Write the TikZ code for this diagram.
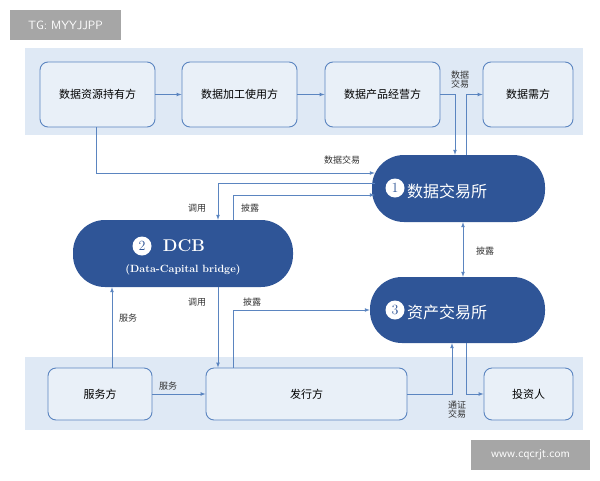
\documentclass[tikz,border=0pt]{standalone}
\usepackage{fontspec}
\newfontfamily\cjk{Noto Sans CJK SC}
\usetikzlibrary{calc}
\definecolor{bandblue}{HTML}{DFE9F5}
\definecolor{boxline}{HTML}{5B85C0}
\definecolor{darkblue}{HTML}{2F5597}
\definecolor{wmgray}{HTML}{A6A6A6}
\tikzset{
  party/.style = {draw = boxline, line width = 0.9pt, rounded corners = 8pt, fill = bandblue!70, font = \cjk\fontsize{11}{13}\selectfont},
  exch/.style = {fill = darkblue, rounded corners = 32pt, text = white, font = \cjk\fontsize{15}{18}\selectfont},
  num/.style = {circle, fill = white, text = darkblue, inner sep = 0pt, minimum size = 19pt, font = \fontsize{14}{14}\selectfont},
  flow/.style = {draw = boxline, line width = 0.7pt, -latex},
  lab/.style = {font = \cjk\fontsize{9}{11}\selectfont, text = black!80, align = center},
  wm/.style = {fill = wmgray, text = white, font = \sffamily\fontsize{12}{14}\selectfont}
}
\begin{document}
\begin{tikzpicture}[x = 1pt, y = -1pt]
\useasboundingbox (0,0) rectangle (600,480);
% bands
\fill[bandblue] (25,48) rectangle (583,135);
\fill[bandblue] (25,357) rectangle (583,430);
% top row
\node[party, minimum width = 115pt, minimum height = 65pt] (holder) at (97.5,94.5) {数据资源持有方};
\node[party, minimum width = 115pt, minimum height = 65pt] (proc) at (239.5,94.5) {数据加工使用方};
\node[party, minimum width = 115pt, minimum height = 65pt] (oper) at (382.5,94.5) {数据产品经营方};
\node[party, minimum width = 90pt, minimum height = 65pt] (demand) at (528,94.5) {数据需方};
% bottom row
\node[party, minimum width = 104pt, minimum height = 52pt] (serv) at (100,394) {服务方};
\node[party, minimum width = 201pt, minimum height = 52pt] (issuer) at (306.5,394) {发行方};
\node[party, minimum width = 89pt, minimum height = 52pt] (invest) at (528.5,394) {投资人};
% exchanges
\node[exch, minimum width = 173pt, minimum height = 67pt] (dex) at (458.5,188.5) {};
\node[num] (n1) at (395,188) {1};
\node at (447,191) [text = white, font = \cjk\fontsize{16}{18}\selectfont] {数据交易所};
\node[exch, minimum width = 175pt, minimum height = 66pt] (aex) at (457.5,310) {};
\node[num] (n3) at (395,310) {3};
\node at (447,312) [text = white, font = \cjk\fontsize{16}{18}\selectfont] {资产交易所};
\node[exch, minimum width = 220pt, minimum height = 67pt] (dcb) at (183,253.5) {};
\node[num] (n2) at (142,246) {2};
\node at (184,246) [text = white, font = \bfseries\fontsize{17}{18}\selectfont] {DCB};
\node at (183,270) [text = white, font = \bfseries\fontsize{10.5}{12}\selectfont] {(Data-Capital bridge)};
% top flows
\draw[flow] (holder) -- (proc);
\draw[flow] (proc) -- (oper);
\draw[flow] (oper.east) -| ($(dex.north)+(-3.5,0)$);
\draw[flow] ($(dex.north)+(7.5,0)$) |- (demand.west);
\node[lab] at (460,80) {数据\\[-2pt]交易};
\draw[flow] ($(holder.south)+(-1.5,0)$) |- ($(dex.west)+(3,-15.5)$);
\node[lab] at (342,160) {数据交易};
\draw[flow] ($(dex.west)+(3,-5.5)$) -| ($(dcb.north)+(35,0)$);
\draw[flow] ($(dcb.north)+(50,0)$) |- ($(dex.west)+(3,6.5)$);
\node[lab] at (197,208) {调用};
\node[lab] at (250,208) {披露};
% exchange link
\draw[flow, latex-latex] ($(dex.south)+(4.5,0)$) -- ($(aex.north)+(5.5,0)$);
\node[lab] at (485,251) {披露};
% DCB flows
\draw[flow] ($(dcb.south)+(35,0)$) -- ($(issuer.north)+(-88.5,0)$);
\draw[flow] ($(issuer.north)+(-73.5,0)$) |- ($(aex.west)+(0,0)$);
\node[lab] at (197,302) {调用};
\node[lab] at (252,302) {披露};
\draw[flow] ($(serv.north)+(12,0)$) -- ($(dcb.south)+(-71,0)$);
\node[lab] at (128,318) {服务};
% bottom flows
\draw[flow] (serv) -- (issuer);
\node[lab] at (168,386) {服务};
\draw[flow] (issuer.east) -| ($(aex.south)+(-5.5,0)$);
\draw[flow] ($(aex.south)+(8.5,0)$) |- (invest.west);
\node[lab] at (457,410) {通证\\[-2pt]交易};
% watermarks
\node[wm, minimum width = 111pt, minimum height = 30pt] (tg) at (65.5,25) {TG: MYYJJPP};
\node[wm, minimum width = 119pt, minimum height = 30pt] (www) at (530.5,455) {www.cqcrjt.com};
\end{tikzpicture}
\end{document}
